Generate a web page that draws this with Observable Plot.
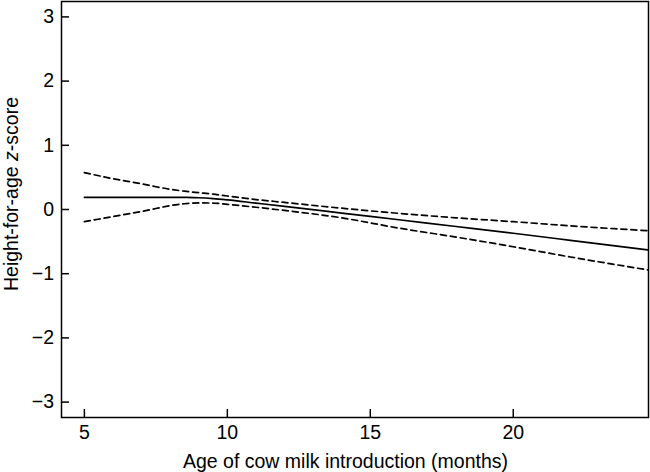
<!DOCTYPE html>
<html><head><meta charset="utf-8">
<script src="https://cdn.jsdelivr.net/npm/d3@7"></script>
<script src="https://cdn.jsdelivr.net/npm/@observablehq/plot@0.6"></script>
<style>html,body{margin:0;padding:0;background:#fff}</style>
</head><body><div id="chart"></div>
<script>
const months   = [5, 6, 7, 7.5, 8, 8.5, 9, 9.5, 10, 11, 12, 14, 16, 18, 20, 22, 24.7];
const estimate = [0.19, 0.19, 0.19, 0.19, 0.19, 0.188, 0.183, 0.17, 0.15, 0.1, 0.05, -0.055, -0.16, -0.265, -0.37, -0.48, -0.63];
const upperCI  = [0.575, 0.48, 0.4, 0.355, 0.315, 0.285, 0.262, 0.24, 0.21, 0.155, 0.11, 0.02, -0.06, -0.13, -0.19, -0.255, -0.33];
const lowerCI  = [-0.19, -0.11, -0.03, 0.015, 0.06, 0.09, 0.103, 0.1, 0.08, 0.035, -0.015, -0.13, -0.29, -0.43, -0.58, -0.74, -0.94];
const xTicks = [5, 10, 15, 20];
const yTicks = [-3, -2, -1, 0, 1, 2, 3];
const xTitle = "Age of cow milk introduction (months)";
const yTitleParts = ["Height-for-age ", "z", "-score"];

const toRows = (vals) => months.map((m, i) => ({month: m, value: vals[i]}));
const fmt = (d) => (d < 0 ? "\u2212" : "") + Math.abs(d);

const chart = Plot.plot({
  width: 650, height: 472,
  marginTop: 1, marginRight: 2, marginBottom: 55, marginLeft: 61,
  style: {fontFamily: "'Liberation Sans', Arial, sans-serif", fontSize: "19.5px", color: "#000", background: "#fff"},
  x: {domain: [4.2, 24.73]},
  y: {domain: [-3.24, 3.24]},
  marks: [
    Plot.line(toRows(upperCI), {x: "month", y: "value", stroke: "#000", strokeWidth: 1.7, strokeDasharray: "6,4", curve: "monotone-x", clip: true}),
    Plot.line(toRows(lowerCI), {x: "month", y: "value", stroke: "#000", strokeWidth: 1.7, strokeDasharray: "6,4", curve: "monotone-x", clip: true}),
    Plot.line(toRows(estimate), {x: "month", y: "value", stroke: "#000", strokeWidth: 1.7, curve: "monotone-x", clip: true}),
    Plot.frame({stroke: "#000", strokeWidth: 1.5}),
    Plot.axisX({ticks: xTicks, tickFormat: fmt, tickSize: -8, tickPadding: 16, label: null, strokeWidth: 1.5}),
    Plot.axisY({ticks: yTicks, tickFormat: fmt, tickSize: -8, tickPadding: 15.5, label: null, strokeWidth: 1.5})
  ]
});
document.getElementById("chart").appendChild(chart);

const svg = d3.select(chart);
svg.append("text")
  .attr("x", 345.5).attr("y", 468)
  .attr("text-anchor", "middle")
  .style("font-family", "'Liberation Sans', Arial, sans-serif")
  .style("font-size", "19.5px").attr("fill", "#000")
  .text(xTitle);
const yt = svg.append("text")
  .attr("transform", "translate(18,194) rotate(-90)")
  .attr("text-anchor", "middle")
  .style("font-family", "'Liberation Sans', Arial, sans-serif")
  .style("font-size", "19.5px").attr("fill", "#000");
yTitleParts.forEach((p, i) => {
  yt.append("tspan").attr("font-style", i === 1 ? "italic" : "normal").text(p);
});
</script>
</body></html>
